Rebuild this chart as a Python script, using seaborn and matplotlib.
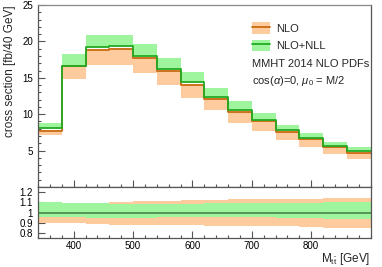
import numpy as np
import pandas as pd
import matplotlib
matplotlib.use("Agg")
import matplotlib.pyplot as plt
import seaborn as sns
from matplotlib.patches import Patch
from matplotlib.lines import Line2D
from matplotlib.ticker import MultipleLocator, FixedLocator

# ---- data (bins of 40 GeV) ----
edges = [340, 380, 420, 460, 500, 540, 580, 620, 660, 700, 740, 780, 820, 860, 900]
nll_c = [8.08, 16.67, 19.19, 19.33, 18.04, 16.25, 14.42, 12.4, 10.6, 9.2, 7.8, 6.7, 5.69, 4.88]
nll_hi = [8.86, 18.3, 20.94, 20.9, 19.7, 17.73, 15.74, 13.6, 11.75, 10.1, 8.55, 7.4, 6.2, 5.45]
nlo_c = [7.75, 16.57, 18.87, 18.96, 17.73, 15.98, 14.05, 12.15, 10.35, 9.0, 7.6, 6.55, 5.47, 4.66]
nlo_lo = [7.16, 14.83, 16.8, 16.7, 15.66, 14.05, 12.2, 10.6, 8.8, 7.7, 6.47, 5.44, 4.6, 3.86]

# ratio panel bands
r_nll_hi = [1.10, 1.09, 1.09, 1.088, 1.085, 1.085, 1.085, 1.09, 1.09, 1.09, 1.09, 1.095, 1.10, 1.10]
r_nll_lo = [0.955, 0.955, 0.95, 0.948, 0.95, 0.955, 0.955, 0.955, 0.955, 0.955, 0.952, 0.952, 0.94, 0.935]
r_nlo_hi = [1.09, 1.085, 1.097, 1.10, 1.11, 1.115, 1.12, 1.125, 1.13, 1.13, 1.135, 1.135, 1.14, 1.145]
r_nlo_lo = [0.90, 0.90, 0.888, 0.88, 0.878, 0.878, 0.876, 0.874, 0.872, 0.87, 0.866, 0.862, 0.855, 0.85]

labels = ["NLO", "NLO+NLL"]

def ext(v):
    return list(v) + [v[-1]]

sns.set_style("ticks")
plt.rcParams['font.family'] = ['Liberation Sans', 'DejaVu Sans']
plt.rcParams['mathtext.fontset'] = 'custom'
plt.rcParams['mathtext.rm'] = 'Liberation Sans'
plt.rcParams['mathtext.it'] = 'Liberation Sans:italic'

GREEN_F = "#9ef59e"
ORANGE_F = "#fdcb9e"
GREEN_L = "#22aa22"
ORANGE_L = "#c86a10"
SPINE = "#555555"

fig = plt.figure(figsize=(3.82, 2.67), dpi=100)
ax = fig.add_axes([0.0995, 0.2996, 0.8705, 0.6816])
axr = fig.add_axes([0.0995, 0.1075, 0.8705, 0.192])

x = edges
# top panel bands
ax.fill_between(x, ext(nll_c), ext(nll_hi), step="post", color=GREEN_F, lw=0)
ax.fill_between(x, ext(nlo_lo), ext(nlo_c), step="post", color=ORANGE_F, lw=0)

df = pd.DataFrame({
    "M": list(x) * 2,
    "xs": ext(nlo_c) + ext(nll_c),
    "calc": [labels[0]] * len(x) + [labels[1]] * len(x),
})
sns.lineplot(data=df, x="M", y="xs", hue="calc", palette=[ORANGE_L, GREEN_L],
             drawstyle="steps-post", lw=1.3, ax=ax, legend=False, estimator=None, sort=False)

# ratio panel
axr.fill_between(x, ext(r_nlo_lo), ext(r_nlo_hi), step="post", color=ORANGE_F, lw=0)
axr.fill_between(x, ext(r_nll_lo), ext(r_nll_hi), step="post", color=GREEN_F, lw=0)
sns.lineplot(x=[edges[0], edges[-1]], y=[1.0, 1.0], color="#4f8f4f", lw=1.3, ax=axr)

for a in (ax, axr):
    a.set_xlim(340, 900)
    a.xaxis.set_major_locator(FixedLocator([400, 500, 600, 700, 800]))
    a.xaxis.set_minor_locator(MultipleLocator(20))
    a.tick_params(which="both", direction="in", colors=SPINE, labelcolor="black",
                  labelsize=7, width=0.8)
    a.tick_params(which="major", length=5)
    a.tick_params(which="minor", length=2.5)
    for s in a.spines.values():
        s.set_visible(True)
        s.set_color(SPINE)
        s.set_linewidth(0.9)
    a.set_xlabel("")
    a.set_ylabel("")

ax.set_ylim(0, 25)
ax.set_yticks([5, 10, 15, 20, 25])
ax.yaxis.set_minor_locator(MultipleLocator(1))
ax.tick_params(axis="x", labelbottom=False)
ax.spines["top"].set_color("#888888")

axr.set_ylim(0.75, 1.25)
axr.set_yticks([0.8, 0.9, 1.0, 1.1, 1.2])
axr.set_yticklabels(["0.8", "0.9", "1", "1.1", "1.2"])
axr.tick_params(axis="y", which="minor", left=False)
axr.tick_params(axis="x", pad=2)

ax.set_ylabel("cross section [fb/40 GeV]", fontsize=8.5, loc="top")
ax.yaxis.set_label_coords(-0.066, 1.0)
axr.set_xlabel(r"M$_{\mathrm{t\bar{t}}}$ [GeV]", fontsize=8.5, loc="right")
axr.xaxis.set_label_coords(1.0, -0.25)

handles = [
    (Patch(facecolor=ORANGE_F, edgecolor="none"), Line2D([], [], color=ORANGE_L, lw=1.3)),
    (Patch(facecolor=GREEN_F, edgecolor="none"), Line2D([], [], color=GREEN_L, lw=1.3)),
]
ax.legend(handles, labels, loc="upper left", bbox_to_anchor=(0.63, 0.93),
          frameon=False, fontsize=8, handlelength=1.6, handleheight=1.2,
          labelspacing=0.55, handletextpad=0.6, borderaxespad=0)

ax.text(0.643, 0.675, "MMHT 2014 NLO PDFs", transform=ax.transAxes,
        fontsize=8, va="center", ha="left")
ax.text(0.643, 0.58, r"cos($\alpha$)=0, $\mu_0$ = M/2", transform=ax.transAxes,
        fontsize=8, va="center", ha="left")

fig.savefig("out.png", dpi=100)
